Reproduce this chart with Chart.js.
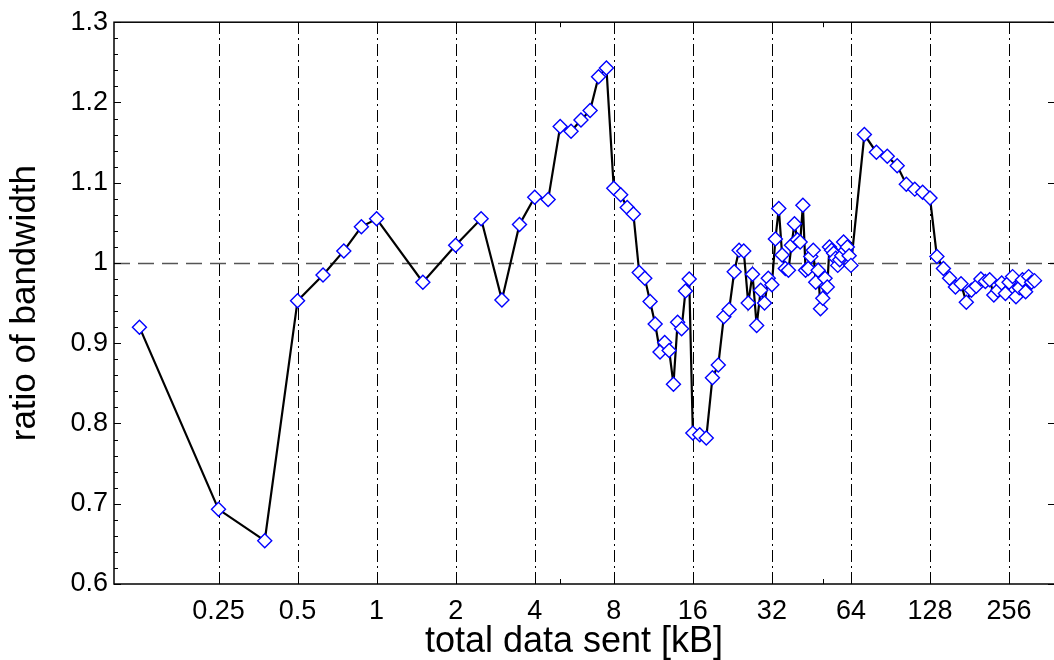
<!DOCTYPE html>
<html>
<head>
<meta charset="utf-8">
<script src="https://cdn.jsdelivr.net/npm/chart.js@4"></script>
<style>
  html, body { margin: 0; padding: 0; background: #fff; overflow: hidden; }
  #wrap { width: 1054px; height: 660px; overflow: hidden; }
</style>
</head>
<body>
<div id="wrap"><canvas id="ratioChart" width="1056" height="660"></canvas></div>
<script>
// total data sent per run [kB]
const dataSent = [
  0.125, 0.25, 0.375, 0.5, 0.625, 0.75, 0.875, 1,
  1.5, 2, 2.5, 3, 3.5, 4,
  4.5, 5, 5.5, 6, 6.5, 7, 7.5, 8,
  8.5, 9, 9.5, 10, 10.5, 11, 11.5, 12, 12.5, 13, 13.5, 14, 14.5, 15, 15.5, 16,
  17, 18, 19, 20, 21, 22, 23, 24, 25, 26, 27, 28, 29, 30, 31, 32,
  33, 34, 35, 36, 37, 38, 39, 40, 41, 42, 43, 44, 45, 46, 47, 48,
  49, 50, 51, 52, 53, 54, 55, 56, 57, 58, 59, 60, 61, 62, 63, 64,
  72, 80, 88, 96, 104, 112, 120, 128,
  136, 144, 152, 160, 168, 176, 184, 192, 200, 208, 216, 224,
  232, 240, 248, 256, 264, 272, 280, 288, 296, 304, 312, 320
];

// measured bandwidth ratio for each run
const bandwidthRatio = [
  0.920, 0.693, 0.654, 0.953, 0.985, 1.015, 1.045, 1.055,
  0.976, 1.022, 1.055, 0.954, 1.048, 1.082,
  1.079, 1.170, 1.164, 1.178, 1.190, 1.232, 1.243, 1.093,
  1.085, 1.069, 1.061, 0.988, 0.981, 0.952, 0.924, 0.889, 0.901, 0.891, 0.849, 0.926, 0.918, 0.965, 0.980, 0.788,
  0.786, 0.782, 0.857, 0.873, 0.933, 0.942, 0.989, 1.016, 1.015, 0.950, 0.986, 0.922, 0.966, 0.950, 0.981, 0.973,
  1.030, 1.068, 1.010, 0.993, 0.991, 1.022, 1.049, 1.029, 1.026, 1.072, 0.991, 0.993, 1.008, 1.016, 0.976, 0.991,
  0.943, 0.956, 0.981, 0.970, 1.020, 1.016, 1.012, 1.006, 0.997, 1.004, 1.009, 1.026, 1.016, 1.020, 1.009, 0.997,
  1.160, 1.138, 1.133, 1.121, 1.098, 1.092, 1.088, 1.081,
  1.008, 0.993, 0.981, 0.970, 0.974, 0.951, 0.966, 0.971, 0.980, 0.977, 0.979, 0.960,
  0.966, 0.975, 0.962, 0.976, 0.983, 0.958, 0.969, 0.979, 0.964, 0.983, 0.976, 0.978
];

const xTickValues = [0.25, 0.5, 1, 2, 4, 8, 16, 32, 64, 128, 256];
const xMinorTicks = [5, 50];
const yTickValues = [0.6, 0.7, 0.8, 0.9, 1.0, 1.1, 1.2, 1.3];
const yMinorStep = 0.02;
const referenceRatio = 1;
const xTitle = 'total data sent [kB]';

const points = dataSent.map((x, i) => ({ x: x, y: bandwidthRatio[i] }));

const tickFont = { family: 'Liberation Sans, Arial, sans-serif', size: 27 };
const titleFont = { family: 'Liberation Sans, Arial, sans-serif', size: 36 };

// frame, grid lines and inward tick marks
const framePlugin = {
  id: 'frame',
  beforeDatasetsDraw(chart) {
    const { ctx, chartArea: a, scales: { x, y } } = chart;
    ctx.save();
    ctx.lineWidth = 1;

    // vertical dash-dot grid
    ctx.strokeStyle = '#000';
    ctx.setLineDash([12, 4, 2, 4]);
    xTickValues.forEach(v => {
      const px = Math.round(x.getPixelForValue(v)) + 0.5;
      ctx.beginPath();
      ctx.moveTo(px, a.bottom);
      ctx.lineTo(px, a.top);
      ctx.stroke();
    });

    // dashed reference line
    ctx.strokeStyle = '#555';
    ctx.lineWidth = 1.5;
    ctx.setLineDash([16, 8]);
    const py = Math.round(y.getPixelForValue(referenceRatio)) + 0.5;
    ctx.beginPath();
    ctx.moveTo(a.left, py);
    ctx.lineTo(a.right, py);
    ctx.stroke();

    // tick marks
    ctx.setLineDash([]);
    ctx.strokeStyle = '#000';
    ctx.lineWidth = 1;
    const tick = (x1, y1, x2, y2) => {
      ctx.beginPath();
      ctx.moveTo(x1, y1);
      ctx.lineTo(x2, y2);
      ctx.stroke();
    };
    xTickValues.forEach(v => {
      const px = Math.round(x.getPixelForValue(v)) + 0.5;
      tick(px, a.bottom, px, a.bottom - 9);
      tick(px, a.top, px, a.top + 9);
    });
    xMinorTicks.forEach(v => {
      const px = Math.round(x.getPixelForValue(v)) + 0.5;
      tick(px, a.bottom, px, a.bottom - 5);
      tick(px, a.top, px, a.top + 5);
    });
    for (let v = y.min + yMinorStep; v < y.max - 1e-9; v += yMinorStep) {
      const p = Math.round(y.getPixelForValue(v)) + 0.5;
      tick(a.left, p, a.left + 4, p);
    }
    yTickValues.forEach(v => {
      const p = Math.round(y.getPixelForValue(v)) + 0.5;
      tick(a.left, p, a.left + 7, p);
      tick(a.right, p, a.right - 7, p);
    });

    // axes box
    ctx.lineWidth = 1.5;
    ctx.strokeRect(a.left, a.top, a.right - a.left, a.bottom - a.top);
    ctx.restore();
  },
  afterDraw(chart) {
    // x axis title, set a little left of the axis centre
    const { ctx } = chart;
    ctx.save();
    ctx.fillStyle = '#000';
    ctx.font = titleFont.size + 'px ' + titleFont.family;
    ctx.textAlign = 'center';
    ctx.textBaseline = 'alphabetic';
    ctx.fillText(xTitle, 574, 652);
    ctx.restore();
  }
};

new Chart(document.getElementById('ratioChart'), {
  type: 'line',
  data: {
    datasets: [{
      data: points,
      borderColor: '#000',
      borderWidth: 2.2,
      pointStyle: 'rectRot',
      pointRadius: 7,
      pointBorderColor: '#0000ff',
      pointBackgroundColor: '#fff',
      pointBorderWidth: 1.4,
      tension: 0,
      clip: false
    }]
  },
  options: {
    responsive: false,
    animation: false,
    devicePixelRatio: 1,
    layout: { autoPadding: false, padding: { top: 21, right: 1, left: 0, bottom: 0 } },
    plugins: {
      legend: { display: false },
      tooltip: { enabled: false }
    },
    scales: {
      x: {
        type: 'logarithmic',
        min: 0.1,
        max: 383,
        afterBuildTicks: scale => { scale.ticks = xTickValues.map(v => ({ value: v })); },
        afterFit: scale => {
          scale.height = 76;
          scale.paddingLeft = 0;
          scale.paddingRight = 0;
        },
        grid: { display: false, drawTicks: false },
        border: { display: false },
        ticks: {
          autoSkip: false,
          maxRotation: 0,
          padding: 11,
          color: '#000',
          font: tickFont,
          callback: v => String(v)
        },
        title: { display: false }
      },
      y: {
        type: 'linear',
        min: 0.6,
        max: 1.3,
        afterBuildTicks: scale => { scale.ticks = yTickValues.map(v => ({ value: v })); },
        afterFit: scale => { scale.width = 114; },
        grid: { display: false, drawTicks: false },
        border: { display: false },
        ticks: {
          padding: 6,
          color: '#000',
          font: tickFont,
          callback: v => String(+v.toFixed(1))
        },
        title: {
          display: true,
          text: 'ratio of bandwidth',
          color: '#000',
          padding: { top: 4, bottom: 0 },
          font: { family: titleFont.family, size: 35 }
        }
      }
    }
  },
  plugins: [framePlugin]
});
</script>
</body>
</html>
